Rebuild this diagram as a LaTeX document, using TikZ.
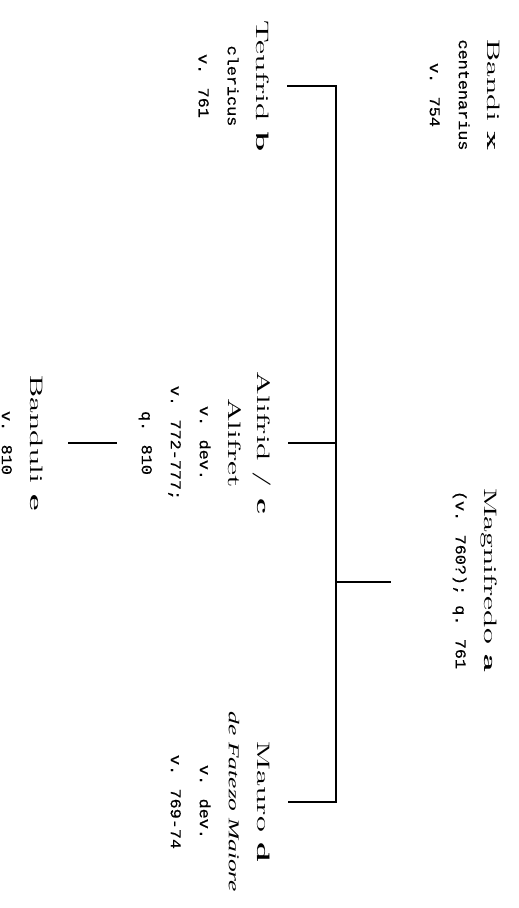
\documentclass[tikz,border=0pt]{standalone}
\usepackage{fontspec}
\newfontfamily\detfont[FakeBold=0.4]{Liberation Mono}
\newfontfamily\detitfont{Liberation Serif}
\usepackage{graphicx}
\usetikzlibrary{calc}
\newcommand\nm[1]{\scalebox{3.15}[1.8]{\fontsize{10}{12}\selectfont #1}}
\newcommand\dt[1]{\scalebox{1.12}[1]{\fontsize{15}{29}\selectfont\detfont #1}}
\newcommand\dti[1]{\scalebox{1.7}[1]{\fontsize{15}{29}\selectfont\detitfont\itshape #1}}
\begin{document}
\begin{tikzpicture}[x=1pt,y=-1pt,
  person/.style={rotate=-90, align=center, inner sep=0pt, font=\fontsize{18}{29}\selectfont},
  link/.style={line width=1.3pt, line cap=rect}]
\useasboundingbox (0,0) rectangle (519,908);
\node[person] (x) at (465,95) {\nm{Bandi \textbf{x}}\\ \dt{centenarius}\\ \dt{v. 754}};
\node[person] (a) at (475,580) {\nm{Magnifredo \textbf{a}}\\ \dt{(v. 760?); q. 761}};
\node[person] (b) at (234,86) {\nm{Teufrid \textbf{b}}\\ \dt{clericus}\\ \dt{v. 761}};
\node[person] (c) at (205,443) {\nm{Alifrid / \textbf{c}}\\ \nm{Alifret}\\ \dt{v. dev.}\\ \dt{v. 772-777;}\\ \dt{q. 810}};
\node[person] (d) at (220.5,802) {\nm{Mauro \textbf{d}}\\ \dti{de Fatezo Maiore}\\ \dt{v. dev.}\\ \dt{v. 769-74}};
\node[person] (e) at (22.5,443) {\nm{Banduli \textbf{e}}\\ \dt{v. 810}};
\coordinate (sp) at (336,582);
\draw[link] ($(b.north)+(18,0)$) -| (sp) |- ($(d.north)+(18,0)$);
\draw[link] ($(c.north)+(17,0)$) -- (sp |- c.north);
\draw[link] (sp) -- ($(a.south |- sp)+(-62,0)$);
\draw[link] ($(c.south)+(-22,0)$) -- ($(e.north)+(25,0)$);
\end{tikzpicture}
\end{document}
